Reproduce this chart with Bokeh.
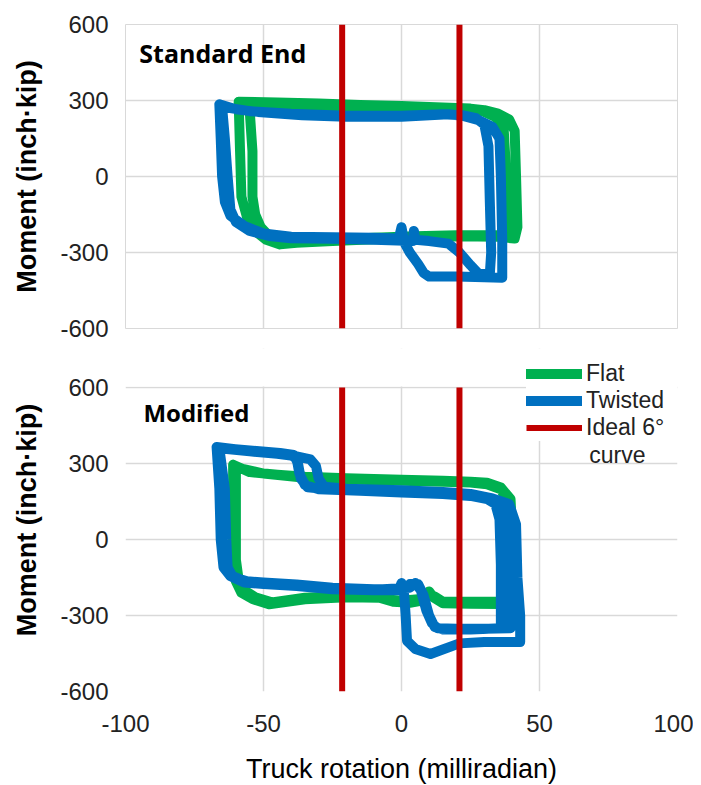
from bokeh.plotting import figure
from bokeh.models import Range1d, FixedTicker, Legend, LegendItem, Label, BoxAnnotation
from bokeh.layouts import column
from bokeh.embed import file_html
from bokeh.resources import INLINE

# ---------------- data ----------------
x_ticks = [-100, -50, 0, 50, 100]
x_tick_labels = ["-100", "-50", "0", "50", "100"]
y_ticks = [-600, -300, 0, 300, 600]
y_tick_labels = ["-600", "-300", "0", "300", "600"]
ideal_curve_x = [-21.5, 21.0]
ideal_y0 = [-600, -600]
ideal_y1 = [600, 600]

# Standard End - Flat
std_flat_x = [-59, -45, -30, -15, 0, 15, 25, 30, 35, 39, 41, 41.5, 42, 41, 35, 20, 5, -10, -25, -38, -44, -49, -53, -56, -58, -58.5, -59,
              -57, -45, -30, -15, 0, 15, 25, 30, 34, 37, 38, 38.5, 36, 20, 5, -10, -25, -38, -44, -48, -51, -53, -54, -54, -55, -57]
std_flat_y = [295, 292, 288, 282, 278, 272, 268, 262, 248, 225, 180, 0, -200, -245, -238, -236, -240, -248, -255, -262, -268, -250, -215, -160, -80, 100, 295,
              285, 280, 278, 275, 270, 268, 265, 255, 235, 190, 0, -225, -232, -232, -236, -242, -250, -255, -258, -235, -200, -150, -80, 100, 260, 285]

# Standard End - Twisted
std_twist_x = [-66, -60, -52, -36, -20, 0, 17, 22, 28, 33, 35.5, 36, 36.5, 36.5, 30, 20, 10, 8, 6, 3, 1, 0, -1, -10, -25, -40, -50, -57, -62, -64, -65, -65.5, -66,
               -65, -55, -40, -20, 0, 15, 22, 27, 30, 31.5, 32, 32.5, 32, 28, 25, 21, 17, 10, 5, 4.5, 4, -10, -25, -40, -48, -55, -60, -62, -63, -64, -65]
std_twist_y = [285, 265, 255, 242, 236, 236, 246, 240, 222, 195, 150, 0, -250, -400, -398, -395, -395, -380, -345, -300, -260, -200, -245, -242, -240, -238, -225, -195, -155, -100, 0, 150, 285,
               275, 258, 248, 240, 240, 246, 242, 230, 205, 120, -100, -300, -385, -385, -350, -300, -265, -255, -250, -215, -255, -250, -246, -244, -235, -215, -180, -130, 0, 150, 275]

# Modified - Flat
mod_flat_x = [-61, -55, -45, -35, -20, 0, 15, 25, 31, 36, 39.5, 40, 40.5, 40, 36, 25, 15, 11.5, 10, 8, 3, -3, -8, -20, -35, -48, -54, -58, -60, -61, -61, -61,
              -60, -50, -35, -20, 0, 15, 25, 31, 36, 38.5, 39, 39, 36, 25, 15, 12, 10, 7, 0, -6, -10, -20, -35, -47, -53, -57, -59, -60, -60, -60]
mod_flat_y = [295, 266, 256, 248, 242, 236, 232, 228, 224, 205, 160, 50, -150, -240, -255, -254, -252, -228, -205, -240, -250, -246, -230, -228, -236, -256, -235, -210, -165, -80, 100, 295,
              285, 260, 244, 237, 232, 228, 225, 218, 198, 150, 0, -235, -245, -246, -246, -225, -215, -235, -242, -236, -222, -222, -230, -248, -228, -200, -160, -80, 100, 285]

# Modified - Twisted
mod_twist_x = [-67, -55, -45, -40, -38, -37, -35, -30, -15, 0, 15, 25, 31, 34, 35.5, 36, 36, 25, 15, 12, 10, 8, 6, 3, 1, -10, -25, -38, -50, -57, -62, -64, -65, -66, -67,
               -66, -55, -45, -38, -33, -31, -30, -28, -20, 0, 15, 25, 33, 39, 41.5, 42, 43, 43, 30, 21, 10.5, 5, 2, 1.5, 1, 0, -1, -10, -25, -38, -50, -57, -61, -63, -63.5, -64, -66,
               -66.5, -56, -44, -39, -37.5, -36.5, -34, -25, 0, 15, 25, 33, 37.5, 39, 39.5, 39.5, 30, 20, 13, 11, 9, 7, 5, 3, -10, -25, -40, -55, -62, -64.5, -65.5, -66, -66.5]
mod_twist_y = [365, 350, 340, 332, 320, 260, 215, 198, 192, 186, 180, 172, 160, 140, 80, -100, -350, -355, -355, -345, -300, -220, -176, -176, -196, -196, -190, -178, -170, -164, -140, -110, 0, 200, 365,
               360, 348, 338, 328, 316, 290, 240, 208, 200, 194, 188, 180, 162, 140, 60, -150, -300, -405, -405, -410, -452, -432, -400, -300, -220, -172, -200, -200, -196, -184, -176, -170, -150, -110, 0, 200, 360,
               362, 352, 342, 334, 300, 240, 206, 196, 190, 184, 176, 162, 140, 50, -200, -350, -352, -352, -350, -330, -280, -200, -172, -190, -198, -194, -180, -168, -145, -110, 0, 200, 362]

# ---------------- styling ----------------
GREEN = "#00b050"
BLUE = "#0070c0"
RED = "#c00000"
GRID = "#d9d9d9"
TXT = "#222222"
LW = 10


def make_fig(frame_h, y_end, border_top, border_bottom, with_x_axis):
    p = figure(frame_width=552, frame_height=frame_h,
               x_range=Range1d(-100, 100), y_range=Range1d(-600, y_end),
               output_backend="svg", toolbar_location=None,
               x_axis_location="below" if with_x_axis else None,
               min_border_left=125, min_border_right=16,
               min_border_top=border_top, min_border_bottom=border_bottom)
    p.outline_line_color = None
    p.background_fill_color = "white"
    p.xgrid.ticker = FixedTicker(ticks=x_ticks)
    p.ygrid.ticker = FixedTicker(ticks=y_ticks)
    p.grid.grid_line_color = GRID
    p.grid.grid_line_width = 1.5
    p.yaxis.ticker = FixedTicker(ticks=y_ticks)
    p.yaxis.major_label_overrides = dict(zip(y_ticks, y_tick_labels))
    if with_x_axis:
        p.xaxis.ticker = FixedTicker(ticks=x_ticks)
        p.xaxis.major_label_overrides = dict(zip(x_ticks, x_tick_labels))
    for ax in p.axis:
        ax.axis_line_color = None
        ax.major_tick_line_color = None
        ax.minor_tick_line_color = None
        ax.major_tick_out = 0
        ax.major_tick_in = 0
        ax.minor_tick_out = 0
        ax.major_label_text_font = "Liberation Sans"
        ax.major_label_text_font_size = "24px"
        ax.major_label_text_color = TXT
    p.yaxis.axis_label = "Moment (inch·kip)"
    p.yaxis.axis_label_text_font = "Liberation Sans"
    p.yaxis.axis_label_text_font_style = "bold"
    p.yaxis.axis_label_text_font_size = "27px"
    p.yaxis.axis_label_text_color = "#000000"
    p.yaxis.major_label_standoff = 17
    p.yaxis.axis_label_standoff = 15
    if with_x_axis:
        p.xaxis.axis_label = "Truck rotation (milliradian)"
        p.xaxis.axis_label_text_font = "Liberation Sans"
        p.xaxis.axis_label_text_font_style = "normal"
        p.xaxis.axis_label_text_font_size = "27px"
        p.xaxis.axis_label_text_color = "#000000"
        p.xaxis.major_label_standoff = 23
        p.xaxis.axis_label_standoff = 19
    return p


def draw(p, fx, fy, tx, ty):
    g = p.line(fx, fy, line_color=GREEN, line_width=LW, line_join="round", line_cap="round")
    b = p.line(tx, ty, line_color=BLUE, line_width=LW, line_join="round", line_cap="round")
    r = p.segment(x0=ideal_curve_x, y0=ideal_y0, x1=ideal_curve_x, y1=ideal_y1,
                  line_color=RED, line_width=6)
    return g, b, r


# ---- top panel: Standard End ----
p1 = make_fig(304, 600, 24, 20, False)
p1.outline_line_color = GRID
draw(p1, std_flat_x, std_flat_y, std_twist_x, std_twist_y)
p1.add_layout(Label(x=-95, y=489, text="Standard End", text_font="Open Sans",
                    text_font_style="bold", text_font_size="25px", text_color="#000000",
                    text_baseline="middle"))

# ---- bottom panel: Modified (frame extended upward to host the legend) ----
p2 = make_fig(343, 754, 0, 20, True)
g2, b2, r2 = draw(p2, mod_flat_x, mod_flat_y, mod_twist_x, mod_twist_y)
p2.add_layout(BoxAnnotation(bottom=604, fill_color="white", fill_alpha=1.0,
                            line_color=None, level="underlay"))
p2.add_layout(Label(x=-93.5, y=501, text="Modified", text_font="Open Sans",
                    text_font_style="bold", text_font_size="24px", text_color="#000000",
                    text_baseline="middle"))

legend = Legend(items=[LegendItem(label="Flat", renderers=[g2]),
                       LegendItem(label="Twisted", renderers=[b2]),
                       LegendItem(label="Ideal 6°", renderers=[r2])],
                location=(401, 250), orientation="vertical",
                background_fill_color="white", background_fill_alpha=1.0,
                border_line_color=None,
                label_text_font="Liberation Sans", label_text_font_size="23px",
                label_text_color=TXT,
                glyph_width=56, glyph_height=27, label_height=27, label_width=100,
                spacing=0, padding=6, margin=0, label_standoff=4)
p2.add_layout(legend)
p2.add_layout(Label(x=68, y=332, text="curve", text_font="Liberation Sans",
                    text_font_size="23px", text_color=TXT, text_baseline="middle"))

layout = column(p1, p2, spacing=0)
open("out.html", "w").write(file_html(layout, INLINE))
